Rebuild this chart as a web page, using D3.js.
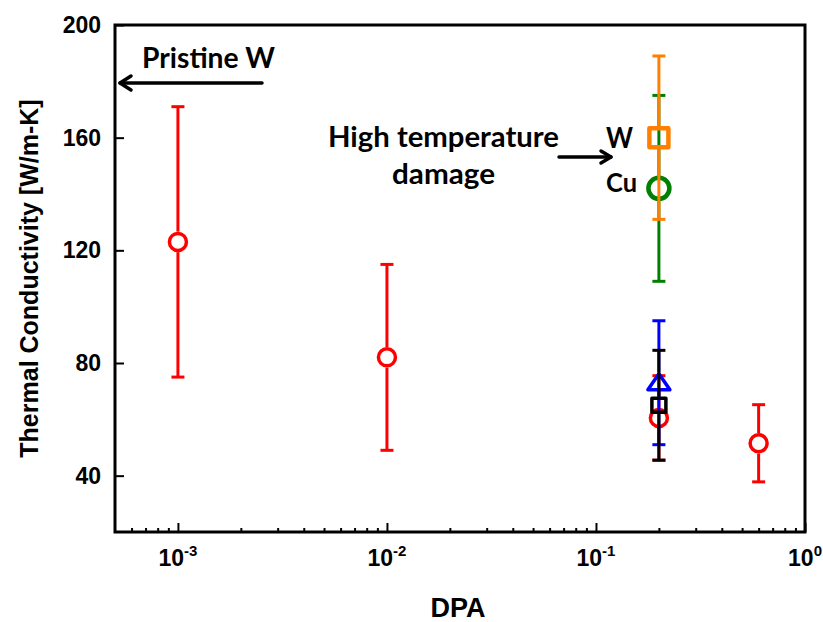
<!DOCTYPE html>
<html><head><meta charset="utf-8">
<script src="https://cdn.jsdelivr.net/npm/d3@7"></script>
<style>body{margin:0;background:#fff}svg{display:block}
.tk{font-family:"Liberation Sans",Arial,sans-serif;font-weight:700}
.an{font-family:Lato,sans-serif;font-weight:700}
</style>
</head><body>
<svg id="c" width="823" height="622"></svg>
<script>
// ---- data ----
const xTickExponents = [-3, -2, -1, 0];
const yTickValues = [40, 80, 120, 160, 200];

const redDpa = [0.001, 0.01, 0.2, 0.6];
const redK   = [123, 82, 60.5, 51.5];
const redErr = [48, 33, 15, 13.7];

const blueDpa = [0.2];
const blueK   = [73];
const blueErr = [22];

const blackDpa = [0.2];
const blackK   = [65];
const blackErr = [19.5];

const greenDpa = [0.2];   // Cu, high temperature damage
const greenK   = [142];
const greenErr = [33];

const orangeDpa = [0.2];  // W, high temperature damage
const orangeK   = [160];
const orangeErr = [29];

// ---- layout ----
const M = {left: 115, right: 805, top: 25, bottom: 532};
const svg = d3.select('#c');
const x = d3.scaleLog().domain([5e-4, 1]).range([M.left, M.right]);
const y = d3.scaleLinear().domain([20, 200]).range([M.bottom, M.top]);

const majorX = xTickExponents.map(e => Math.pow(10, e));
const minorX = [];
for (let d = -4; d < 0; d++) for (let k = 2; k <= 9; k++) {
  const v = k * Math.pow(10, d);
  if (v > 5e-4 && v < 1) minorX.push(v);
}

const gx = svg.append('g').attr('transform', `translate(0,${M.bottom})`);
gx.call(d3.axisBottom(x).tickValues(majorX).tickSize(-9).tickFormat(''));
gx.append('g').call(d3.axisBottom(x).tickValues(minorX).tickSize(-4).tickFormat(''));
gx.selectAll('.domain').remove();
gx.selectAll('line').attr('stroke', '#000').attr('stroke-width', 2);

const xl = svg.append('g');
xTickExponents.forEach(e => {
  const t = xl.append('text').attr('class', 'tk')
    .attr('x', x(Math.pow(10, e)))
    .attr('y', 566)
    .attr('text-anchor', 'middle')
    .attr('font-size', 23);
  t.append('tspan').text('10');
  t.append('tspan').attr('dy', -10).attr('font-size', 15).text(String(e));
});

const gy = svg.append('g').attr('transform', `translate(${M.left},0)`);
gy.call(d3.axisLeft(y).tickValues(yTickValues).tickSize(-9).tickPadding(14).tickFormat(d3.format('d')));
gy.attr('font-family', null).attr('font-size', null);
gy.selectAll('.domain').remove();
gy.selectAll('line').attr('stroke', '#000').attr('stroke-width', 2);
gy.selectAll('text').attr('class', 'tk').attr('font-size', 23).attr('fill', '#000');

svg.append('rect').attr('x', M.left).attr('y', M.top)
  .attr('width', M.right - M.left).attr('height', M.bottom - M.top)
  .attr('fill', 'none').attr('stroke', '#000').attr('stroke-width', 3);

svg.append('text').attr('class', 'tk').attr('x', (M.left + M.right) / 2 - 2).attr('y', 617)
  .attr('text-anchor', 'middle').attr('font-size', 27).text('DPA');
svg.append('text').attr('class', 'tk').attr('transform', `translate(38,${(M.top + M.bottom) / 2}) rotate(-90)`)
  .attr('text-anchor', 'middle').attr('font-size', 25).text('Thermal Conductivity [W/m-K]');

// ---- series ----
const series = [
  {dpa: redDpa, k: redK, err: redErr, color: '#ff0000', shape: 'circle', s: 8.5, sw: 3.5},
  {dpa: blueDpa, k: blueK, err: blueErr, color: '#0000ff', shape: 'triangle', s: 11, sw: 3.5},
  {dpa: blackDpa, k: blackK, err: blackErr, color: '#000000', shape: 'square', s: 7, sw: 3.5},
  {dpa: greenDpa, k: greenK, err: greenErr, color: '#008000', shape: 'circle', s: 10.5, sw: 4.5},
  {dpa: orangeDpa, k: orangeK, err: orangeErr, color: '#ff8000', shape: 'square', s: 9.5, sw: 4.5}
];

function extents(sr) {
  if (sr.shape === 'triangle') return [sr.s * 0.82 + sr.sw / 2, sr.s * 0.64 + sr.sw / 2];
  return [sr.s + sr.sw / 2, sr.s + sr.sw / 2];
}

const capW = 6.5;
series.forEach(sr => {
  const g = svg.append('g');
  const [up, dn] = extents(sr);
  sr.dpa.forEach((d, i) => {
    const cx = x(d), cy = y(sr.k[i]);
    const yt = y(sr.k[i] + sr.err[i]), yb = y(sr.k[i] - sr.err[i]);
    const line = (x1, y1, x2, y2) => g.append('line')
      .attr('x1', x1).attr('y1', y1).attr('x2', x2).attr('y2', y2)
      .attr('stroke', sr.color).attr('stroke-width', 3);
    line(cx, yt, cx, cy - up);
    line(cx, cy + dn, cx, yb);
    line(cx - capW, yt, cx + capW, yt);
    line(cx - capW, yb, cx + capW, yb);
    let shp;
    if (sr.shape === 'circle') {
      shp = g.append('circle').attr('cx', cx).attr('cy', cy).attr('r', sr.s);
    } else if (sr.shape === 'square') {
      shp = g.append('rect').attr('x', cx - sr.s).attr('y', cy - sr.s)
        .attr('width', 2 * sr.s).attr('height', 2 * sr.s);
    } else {
      const s = sr.s;
      shp = g.append('path').attr('d',
        `M${cx},${cy - s * 0.82}L${cx + s},${cy + s * 0.64}L${cx - s},${cy + s * 0.64}Z`);
    }
    shp.attr('fill', 'none').attr('stroke', sr.color).attr('stroke-width', sr.sw)
      .attr('stroke-linejoin', 'round');
  });
});

// ---- annotations ----
const ann = svg.append('g').attr('fill', '#000');
const at = (tx, ty, fs, len, s) => ann.append('text').attr('class', 'an')
  .attr('x', tx).attr('y', ty).attr('font-size', fs)
  .attr('textLength', len).attr('lengthAdjust', 'spacingAndGlyphs').text(s);
at(142, 68, 28, 133, 'Pristine W');
at(328, 147, 29, 231, 'High temperature');
at(392, 184, 29, 103, 'damage');
at(606, 148, 29, 27, 'W');
at(606, 192, 27, 31, 'Cu');

const arr = svg.append('g').attr('stroke', '#000').attr('stroke-width', 3.5)
  .attr('fill', 'none').attr('stroke-linecap', 'round').attr('stroke-linejoin', 'round');
arr.append('line').attr('x1', 262).attr('y1', 83).attr('x2', 120).attr('y2', 83);
arr.append('path').attr('d', 'M131,76L120,83L131,90');
arr.append('line').attr('x1', 559).attr('y1', 157).attr('x2', 611).attr('y2', 157);
arr.append('path').attr('d', 'M601,151L611,157L601,163');
</script>
</body></html>
